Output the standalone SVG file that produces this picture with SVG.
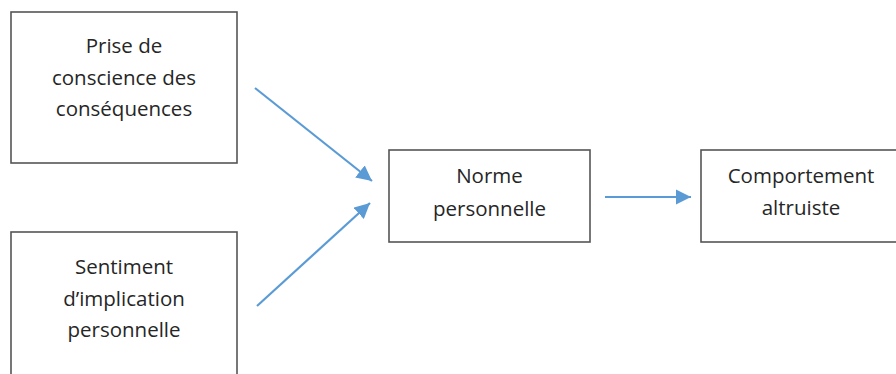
<svg xmlns="http://www.w3.org/2000/svg" width="896" height="374" viewBox="0 0 896 374">
  <defs>
    <marker id="arrow" viewBox="0 0 10 10" refX="10" refY="5" markerWidth="7" markerHeight="7" orient="auto" markerUnits="strokeWidth">
      <path d="M0,0 L10,5 L0,10 z" fill="#5b9bd5"/>
    </marker>
    <style>
      .box { fill: #ffffff; stroke: #555555; stroke-width: 1.6; }
      .label { font-family: "Open Sans", "Liberation Sans", sans-serif; font-size: 20.5px; fill: #262626; text-anchor: middle; }
      .link { stroke: #5b9bd5; stroke-width: 2.2; fill: none; marker-end: url(#arrow); }
    </style>
  </defs>
  <rect width="896" height="374" fill="#ffffff"/>

  <g id="node-prise">
    <rect class="box" x="11" y="12" width="226" height="151"/>
    <text class="label" x="124" y="53">Prise de</text>
    <text class="label" x="124" y="85">conscience des</text>
    <text class="label" x="124" y="116">conséquences</text>
  </g>

  <g id="node-sentiment">
    <rect class="box" x="11" y="232" width="226" height="160"/>
    <text class="label" x="124" y="274">Sentiment</text>
    <text class="label" x="124" y="306">d’implication</text>
    <text class="label" x="124" y="337">personnelle</text>
  </g>

  <g id="node-norme">
    <rect class="box" x="389" y="150" width="201" height="92"/>
    <text class="label" x="489.5" y="183">Norme</text>
    <text class="label" x="489.5" y="216">personnelle</text>
  </g>

  <g id="node-comportement">
    <rect class="box" x="701" y="150" width="210" height="92"/>
    <text class="label" x="801" y="183">Comportement</text>
    <text class="label" x="801" y="215">altruiste</text>
  </g>

  <g id="connectors">
    <line class="link" x1="255" y1="88" x2="372" y2="181"/>
    <line class="link" x1="257" y1="306" x2="370" y2="203"/>
    <line class="link" x1="605" y1="197" x2="691" y2="197"/>
  </g>
</svg>
